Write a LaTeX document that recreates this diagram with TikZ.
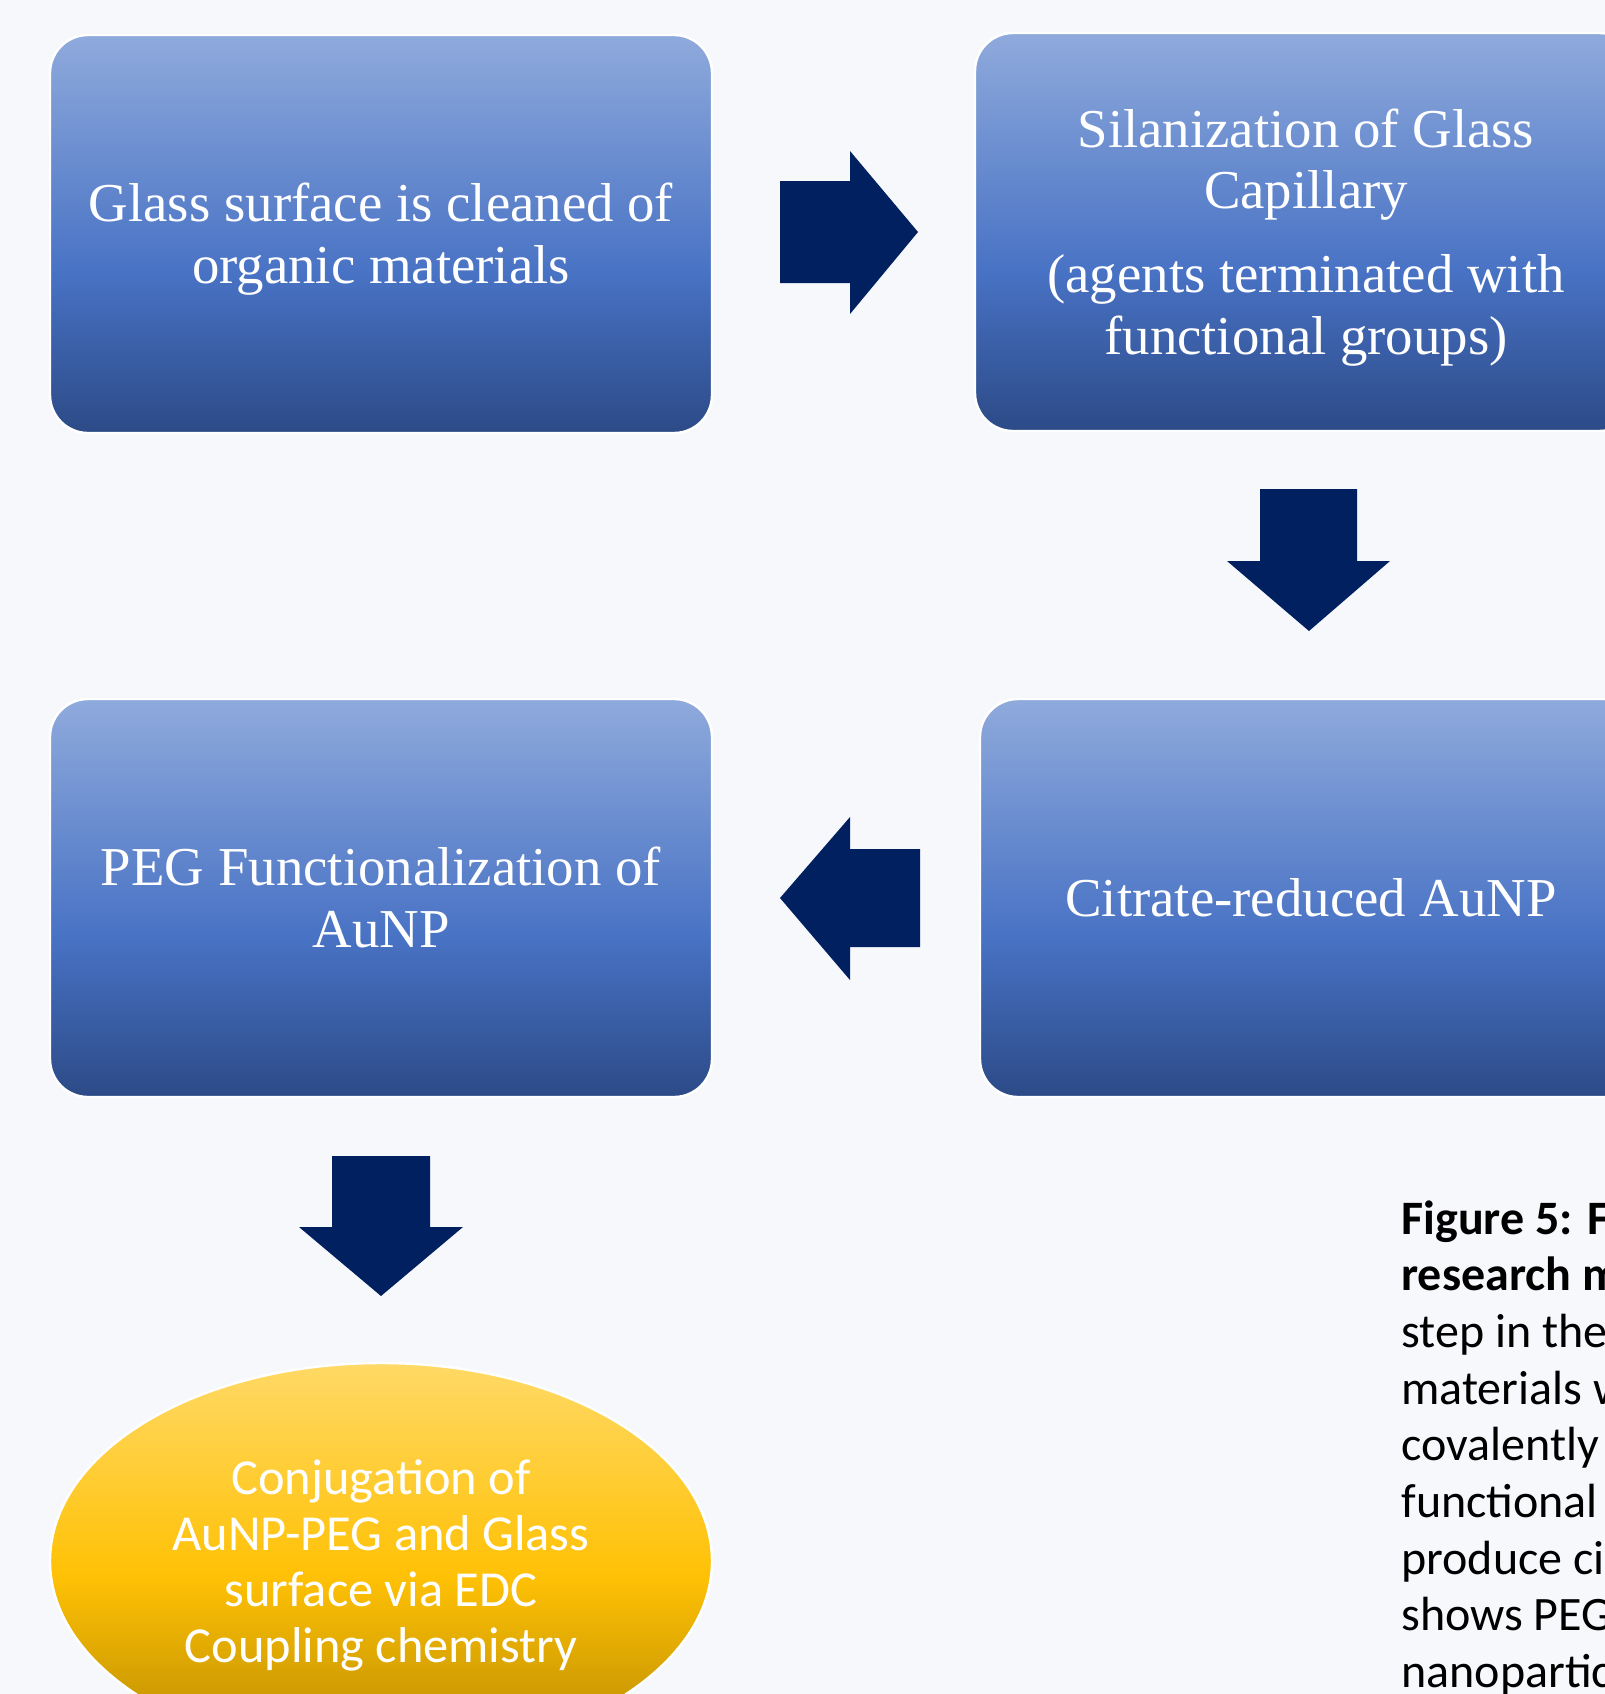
\documentclass[tikz,border=0pt]{standalone}
\usepackage{fontspec}
\setmainfont{Liberation Serif}
\newfontfamily\calib{Carlito}
\usetikzlibrary{shapes.geometric}
\definecolor{bg}{RGB}{247,248,252}
\definecolor{navy}{RGB}{0,32,96}
\definecolor{btop}{RGB}{143,170,220}
\definecolor{bmid}{RGB}{72,114,196}
\definecolor{bbot}{RGB}{44,74,135}
\definecolor{ytop}{RGB}{255,217,102}
\definecolor{ymid}{RGB}{255,193,5}
\definecolor{ybot}{RGB}{180,135,0}
\pgfdeclareverticalshading{boxshade}{100bp}{color(0bp)=(bbot); color(25bp)=(bbot); color(45bp)=(bmid); color(75bp)=(btop); color(100bp)=(btop)}
\pgfdeclareverticalshading{ellshade}{100bp}{color(0bp)=(ybot); color(25bp)=(ybot); color(48bp)=(ymid); color(75bp)=(ytop); color(100bp)=(ytop)}
\newcommand\tstrut{\rule{0pt}{0.9em}}
\newcommand\bstrut{\rule[-0.22em]{0pt}{0.22em}}
\tikzset{
  stepbox/.style={rectangle, rounded corners=19pt, minimum width=331pt, minimum height=199pt,
    inner sep=0pt, shade, shading=boxshade, draw=white, line width=1.2pt, text=white,
    align=center, font=\fontsize{27.4}{30.8}\selectfont},
  ellbox/.style={ellipse, minimum width=331pt, minimum height=198pt, inner sep=0pt,
    shade, shading=ellshade, draw=white, line width=1.2pt, text=white, align=center,
    font=\calib\fontsize{25.2}{28}\selectfont},
  blockarrow/.style={fill=navy, draw=none},
  capline/.style={anchor=base west, inner sep=0pt, font=\calib\fontsize{24}{28}\selectfont, text=black},
  capbold/.style={capline, font=\calib\bfseries\fontsize{24}{28}\selectfont}
}
\begin{document}
\begin{tikzpicture}[x=0.5pt, y=-0.5pt]
\useasboundingbox (0,0) rectangle (1605,1694);
\clip (0,0) rectangle (1605,1694);
\fill[bg] (0,0) rectangle (1605,1694);

\node[stepbox] (b1) at (381,234) {\tstrut Glass surface is cleaned of\\organic materials\bstrut};
\node[stepbox] (b2) at (1306,232) {\tstrut Silanization of Glass\\Capillary\\[11pt](agents terminated with\\functional groups)\bstrut};
\node[stepbox] (b3) at (1311,898) {\tstrut Citrate-reduced AuNP\bstrut};
\node[stepbox] (b4) at (381,898) {\tstrut PEG Functionalization of\\AuNP\bstrut};
\node[ellbox] (e) at (381,1561) {\tstrut Conjugation of\\AuNP-PEG and Glass\\surface via EDC\\Coupling chemistry\bstrut};

% block arrows
\fill[blockarrow] (780,181) -- (850,181) -- (850,151) -- (918,232) -- (850,314) -- (850,283) -- (780,283) -- cycle;
\fill[blockarrow] (1260,489) -- (1357,489) -- (1357,561) -- (1390,561) -- (1309,631) -- (1227,561) -- (1260,561) -- cycle;
\fill[blockarrow] (920,849) -- (850,849) -- (850,817) -- (780,898) -- (850,980) -- (850,947) -- (920,947) -- cycle;
\fill[blockarrow] (332,1156) -- (430,1156) -- (430,1227) -- (463,1227) -- (381,1296) -- (299,1227) -- (332,1227) -- cycle;

% caption
\node[capbold] (c1) at (1401,1234) {Figure 5: F};
\node[capbold] (c2) at (1401,1290.7) {research m};
\node[capline] (c3) at (1401,1347.4) {step in the};
\node[capline] (c4) at (1401,1404.1) {materials w};
\node[capline] (c5) at (1401,1460.8) {covalently};
\node[capline] (c6) at (1401,1517.5) {functional};
\node[capline] (c7) at (1401,1574.2) {produce ci};
\node[capline] (c8) at (1401,1630.9) {shows PEG};
\node[capline] (c9) at (1401,1687.6) {nanopartic};
\end{tikzpicture}
\end{document}
